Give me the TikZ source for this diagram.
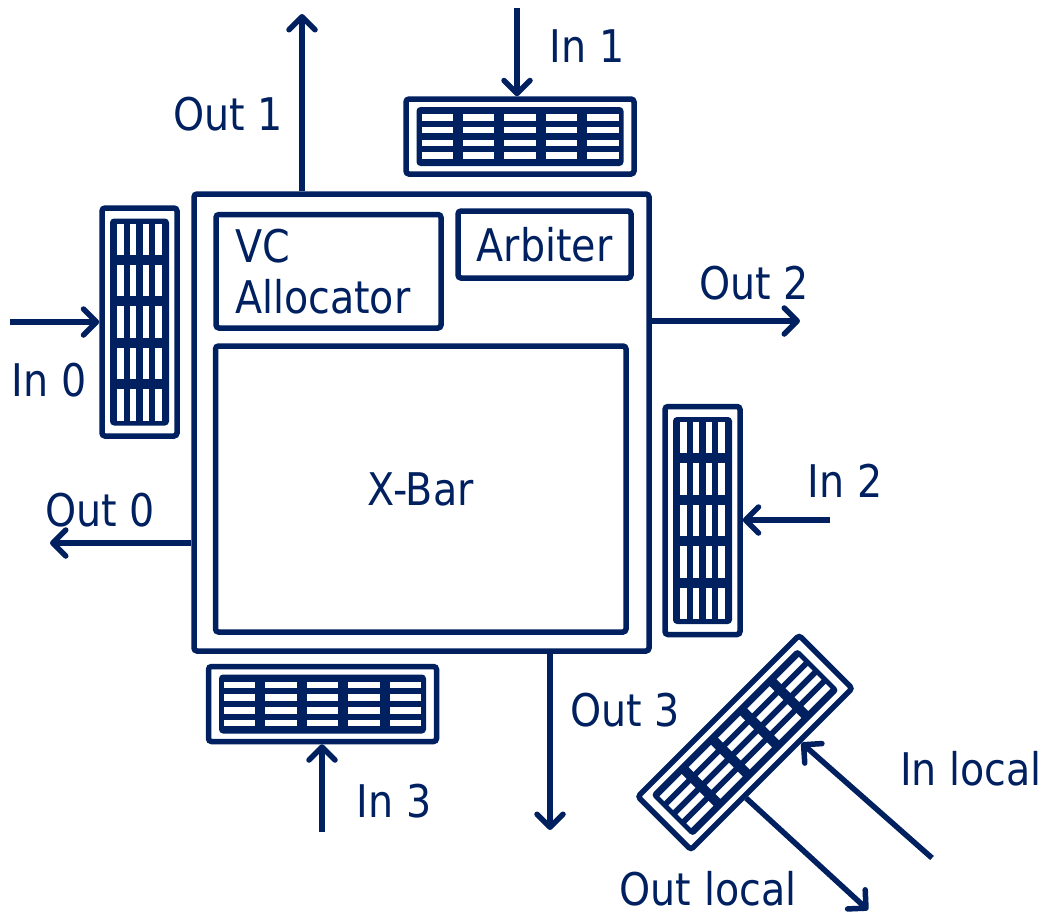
\documentclass[tikz,border=0pt]{standalone}
\usepackage{fontspec}
\setmainfont{DejaVu Sans}[FakeStretch=0.88]
\usetikzlibrary{arrows.meta,calc}
\definecolor{navy}{RGB}{0,32,96}
\tikzset{
  buf/.pic={
    \fill[navy, rounded corners=4pt] (-103.5,-29.5) rectangle (103.5,29.5);
    \foreach \i in {0,...,4}{
      \foreach \j in {-19,-6.33,6.33,19}{
        \fill[white] ({-103.5+41.4*\i+5},{\j-3.3}) rectangle ++(31.4,6.6);
      }
    }
  }
}
\begin{document}
\begin{tikzpicture}[x=1pt,y=-1pt, line width=5.5pt, color=navy,
  every node/.style={font=\fontsize{45}{51}\selectfont, text=navy},
  box/.style={draw=navy, rounded corners=3pt, inner sep=0pt, line width=5.5pt},
  bufbox/.style={box, minimum width=228pt, minimum height=75pt},
  arr/.style={-{Straight Barb[length=13pt,width=26pt,line cap=round,line join=round]}, line width=5.5pt, draw=navy},
  lbl/.style={anchor=base, inner sep=0pt}]
\useasboundingbox (0,0) rectangle (1048,918);

% router
\node[box, minimum width=455pt, minimum height=457pt] (main) at (421.5,422.5) {};
\node[box, minimum width=225pt, minimum height=113.5pt, text width=187pt, align=left] (vc) at (328.5,271.25) {VC\\Allocator};
\node[box, minimum width=173pt, minimum height=67pt] (arb) at (544.5,244.5) {Arbiter};
\node[box, minimum width=410.5pt, minimum height=286pt] (xbar) at (420.75,489) {X-Bar};

% buffers
\node[bufbox] (b1) at (520,136.5) {};
\pic at (b1.center) {buf};
\node[bufbox, rotate=90] (b0) at (139.5,322) {};
\pic[rotate=90] at (b0.center) {buf};
\node[bufbox, rotate=90] (b2) at (702.5,520.5) {};
\pic[rotate=90] at (b2.center) {buf};
\node[bufbox] (b3) at (322.5,704) {};
\pic at (b3.center) {buf};
\node[bufbox, rotate=45] (bl) at (745,742.5) {};
\pic[rotate=45] at (bl.center) {buf};

% free ends
\coordinate (o1e) at (302,14);
\coordinate (i1s) at (517,8);
\coordinate (i0s) at (10,322);
\coordinate (o0e) at (50,543);
\coordinate (o2e) at (800,321);
\coordinate (i2s) at (830,520);
\coordinate (o3e) at (550,830);
\coordinate (i3s) at (322,832);
\coordinate (ils) at (932,858);
\coordinate (ole) at (868,910);

% connectors
\draw[arr] (main.north -| o1e) -- (o1e);
\draw[arr] (i1s) -- (i1s |- b1.north);
\draw[arr] (i0s) -- (i0s -| b0.north);
\draw[arr] (main.west |- o0e) -- (o0e);
\draw[arr] (main.east |- o2e) -- (o2e);
\draw[arr] (i2s) -- (i2s -| b2.south);
\draw[arr] (main.south -| o3e) -- (o3e);
\draw[arr] (i3s) -- (i3s |- b3.south);
\draw[arr] (ils) -- ($(bl.south)!0.34!(bl.south east)$);
\draw[arr] ($(bl.south)!0.33!(bl.south west)$) -- (ole);

% labels
\node[lbl] (lo1) at (228,130) {Out 1};
\node[lbl] (li1) at (587,62) {In 1};
\node[lbl] (li0) at (49,396) {In 0};
\node[lbl] (lo0) at (100,526) {Out 0};
\node[lbl] (lo2) at (754,299) {Out 2};
\node[lbl] (li2) at (845,497) {In 2};
\node[lbl] (lo3) at (625,726) {Out 3};
\node[lbl] (li3) at (394,817) {In 3};
\node[lbl] (lil) at (971,785) {In local};
\node[lbl] (lol) at (708,905) {Out local};
\end{tikzpicture}
\end{document}
